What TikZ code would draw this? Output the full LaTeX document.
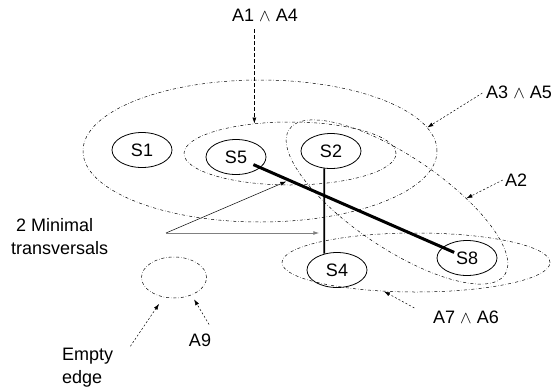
\documentclass[tikz,border=0pt]{standalone}
\usepackage{fontspec}
\setmainfont{Liberation Sans}
\usetikzlibrary{shapes.geometric}
\usetikzlibrary{arrows.meta}

\begin{document}
\begin{tikzpicture}[x=1pt,y=-1pt,font=\fontsize{18}{23}\selectfont,
  vertex/.style={ellipse,draw,line width=0.8pt,minimum width=60pt,minimum height=35pt,inner sep=0pt},
  hedge/.style={ellipse,draw,dash dot,line width=0.5pt,inner sep=0pt},
  lbl/.style={inner sep=2pt},
  ptr/.style={-{Latex[length=6pt,width=4pt]},line width=0.5pt,dash pattern=on 2pt off 2pt}]
  \useasboundingbox (0,0) rectangle (553,391);
  % hyperedges
  \node[hedge,minimum width=354pt,minimum height=142pt] (e35) at (260,151) {};
  \node[hedge,minimum width=212pt,minimum height=63pt] (e14) at (290,153.5) {};
  \node[hedge,rotate=-34,minimum width=260pt,minimum height=92pt] (e2) at (397,202) {};
  \node[hedge,minimum width=268pt,minimum height=59pt] (e76) at (416,262.5) {};
  \node[hedge,minimum width=65pt,minimum height=41pt] (e9) at (174,277.5) {};
  % vertices
  \node[vertex] (s1) at (142,150) {S1};
  \node[vertex] (s5) at (236,157) {S5};
  \node[vertex] (s2) at (331,151) {S2};
  \node[vertex] (s4) at (337,270) {S4};
  \node[vertex] (s8) at (467,258) {S8};
  % transversals
  \draw[line width=3pt,shorten <=19pt,shorten >=14pt] (s5.center) -- (s8.center);
  \draw[line width=1.8pt] (s2.249) -- (s4.128);
  % labels
  \node[lbl] (l14) at (265,15) {A1 $\wedge$ A4};
  \node[lbl] (l35) at (519,92) {A3 $\wedge$ A5};
  \node[lbl] (l2) at (516,180) {A2};
  \node[lbl] (l76) at (466,317) {A7 $\wedge$ A6};
  \node[lbl] (l9) at (200,340) {A9};
  \node[lbl,anchor=west,align=left] (lempty) at (60,368) {Empty\\edge};
  \node[lbl,anchor=west,align=left] (ltrans) at (9,236.5) {\hspace*{5pt}2 Minimal\\transversals};
  \draw[ptr,dash pattern=on 4pt off 2pt,shorten <=6pt] (l14.south -| e14.140) -- (e14.140);
  \draw[ptr,shorten <=2pt] (l35.west) -- (e35.8);
  \draw[ptr] (l2.west) -- (e2.37);
  \draw[ptr,shorten <=19pt] (l76.west) -- (e76.222);
  \draw[ptr,shorten <=8pt,shorten >=5pt] (l9.north east) -- (e9.-45);
  \draw[ptr,shorten >=8pt] ([xshift=15pt]lempty.north east) -- (e9.242);
  % pointers to the transversals
  \coordinate (fan) at (166,233);
  \path (s5.center) -- (s8.center) coordinate[pos=.23] (t1);
  \draw[-{Latex[length=6pt,width=4pt]},line width=0.5pt,shorten >=3pt] (fan) -- (t1);
  \draw[-{Latex[length=6pt,width=4pt]},line width=0.9pt,black!50,shorten >=5pt] (fan) -- (fan -| s2.249);
\end{tikzpicture}
\end{document}
